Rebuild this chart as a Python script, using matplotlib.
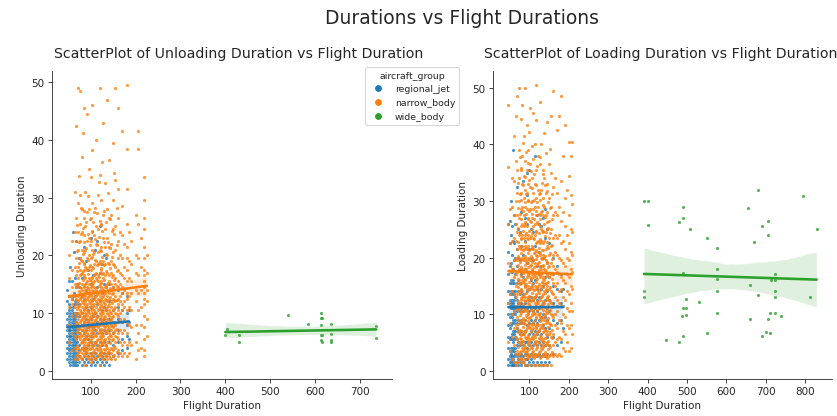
import numpy as np
import matplotlib.pyplot as plt
import seaborn as sns
from matplotlib.lines import Line2D

# aircraft groups and their colours
groups = ['regional_jet', 'narrow_body', 'wide_body']
colors = ['#1f77b4', '#ff7f0e', '#2ca02c']

# ---- Unloading duration (left panel) ----
# flight-duration columns and the unloading values read in each column
ul_regional_x = [48, 52, 55, 58, 60, 62, 65, 68, 70, 75, 80, 85, 90, 95, 100, 105,
                 110, 115, 120, 125, 130, 135, 140, 150, 160, 170, 180, 185]
ul_regional_y = [
    [2, 3, 4, 5, 6, 7, 8, 9, 10, 12, 14],
    [1.5, 2.5, 3.5, 4.5, 5.5, 6.5, 7, 7.5, 8.5, 9.5, 10.5, 11.5, 13, 15.5],
    [1, 2, 3, 4, 5, 6, 6, 7, 8, 9, 10, 11, 13, 18],
    [1.5, 2.5, 3.5, 4.5, 5.5, 6.5, 7.5, 8.5, 9.5, 10.5, 12.5, 15.5],
    [1, 2, 3, 4, 5, 6, 7, 8, 9, 10, 11, 13, 24],
    [1.5, 2.5, 3.5, 4.5, 5.5, 6.5, 7.5, 8.5, 9.5, 11.5, 13.5, 20.5],
    [1, 2, 3, 4, 5, 6, 7, 8, 9, 10, 12, 16],
    [1.5, 2.5, 4.5, 5.5, 6.5, 7.5, 8.5, 9.5, 11.5, 14.5, 22.5],
    [1, 2, 3, 5, 6, 7, 8, 10, 12, 15],
    [1.5, 2.5, 3.5, 4.5, 6.5, 7.5, 9.5, 11.5, 14.5, 19.5],
    [1, 2, 4, 5, 7, 8, 10, 13, 16],
    [1.5, 2.5, 3.5, 5.5, 6.5, 8.5, 9.5, 12.5, 21.5],
    [1, 2, 3, 4, 6, 7, 9, 11, 14, 19],
    [1.5, 2.5, 4.5, 5.5, 7.5, 8.5, 10.5, 13.5, 17.5],
    [1, 2, 3, 5, 6, 8, 9, 11, 15, 23],
    [1.5, 2.5, 4.5, 6.5, 7.5, 9.5, 12.5, 16.5],
    [1, 2, 3, 5, 7, 8, 10, 13, 21],
    [1.5, 2.5, 4.5, 6.5, 8.5, 9.5, 11.5, 14.5, 22.5],
    [1, 2, 3, 5, 7, 9, 12, 17, 25],
    [1.5, 2.5, 4.5, 6.5, 8.5, 10.5, 13.5, 18.5],
    [1, 2, 3, 5, 7, 9, 11, 15, 20],
    [1.5, 2.5, 4.5, 6.5, 8.5, 10.5, 14.5, 19.5],
    [1, 3, 5, 7, 9, 12, 15],
    [2.5, 4.5, 6.5, 8.5, 10.5, 14.5],
    [3, 5, 7, 9, 11, 14],
    [3.5, 5.5, 8.5, 10.5, 13.5],
    [4, 6, 8, 10, 13],
    [5.5, 8.5, 10.5],
]

ul_narrow_x = [52, 58, 64, 68, 72, 76, 80, 84, 88, 92, 96, 100, 104, 108, 112, 116,
               120, 124, 128, 132, 136, 140, 145, 150, 155, 160, 165, 170, 175, 180,
               185, 190, 200, 205, 212, 218, 225]
ul_narrow_y = [
    [5, 8, 11, 13, 16, 20],
    [3.5, 6.5, 9.5, 11.5, 12.5, 14.5, 17.5, 22.5],
    [2, 4, 6, 8, 10, 11, 13, 15, 18, 24, 31],
    [2.5, 3.5, 5.5, 7.5, 8.5, 9.5, 11.5, 12.5, 14.5, 16.5, 19.5, 22.5, 26.5, 42.5],
    [2, 3, 4, 6, 7, 8, 9, 10, 11, 12, 13, 15, 16, 18, 21, 24, 29, 49],
    [2.5, 3.5, 5.5, 6.5, 7.5, 8.5, 9.5, 10.5, 11.5, 12.5, 13.5, 14.5, 16.5, 17.5,
     19.5, 22.5, 25.5, 30.5, 48.5],
    [2, 3, 4, 5, 6, 7, 8, 9, 10, 11, 12, 13, 14, 15, 17, 19, 21, 24, 28, 37],
    [2.5, 3.5, 4.5, 5.5, 6.5, 7.5, 8.5, 9.5, 10.5, 11.5, 12.5, 13.5, 14.5, 16.5,
     17.5, 18.5, 20.5, 23.5, 26.5, 45.5],
    [1, 3, 4, 5, 6, 7, 8, 9, 10, 11, 12, 13, 14, 15, 16, 18, 21, 25, 31],
    [2.5, 3.5, 4.5, 5.5, 6.5, 7.5, 8.5, 9.5, 10.5, 11.5, 12.5, 13.5, 14.5, 15.5,
     17.5, 19.5, 22.5, 27.5, 44.5],
    [2, 3, 4, 5, 6, 7, 8, 9, 10, 11, 12, 13, 14, 15, 16, 18, 20, 23, 28, 35],
    [1.5, 2.5, 4.5, 5.5, 6.5, 7.5, 8.5, 9.5, 10.5, 11.5, 12.5, 13.5, 14.5, 15.5,
     17.5, 19.5, 22.5, 26.5, 33.5],
    [2, 3, 4, 5, 6, 7, 8, 9, 10, 11, 12, 13, 14, 15, 16, 18, 21, 24, 29, 46],
    [2.5, 3.5, 4.5, 6.5, 7.5, 8.5, 9.5, 10.5, 11.5, 12.5, 13.5, 14.5, 15.5, 16.5,
     18.5, 20.5, 23.5, 27.5],
    [2, 3, 4, 5, 6, 7, 8, 9, 10, 11, 12, 13, 14, 16, 17, 19, 22, 25, 40],
    [2.5, 3.5, 4.5, 5.5, 6.5, 7.5, 8.5, 9.5, 10.5, 11.5, 12.5, 13.5, 15.5, 16.5,
     18.5, 20.5, 24.5, 30.5],
    [1, 3, 4, 5, 6, 7, 8, 9, 10, 11, 12, 13, 14, 15, 17, 19, 21, 26, 34, 49],
    [2.5, 3.5, 4.5, 5.5, 6.5, 8.5, 9.5, 10.5, 11.5, 12.5, 13.5, 14.5, 15.5, 17.5,
     18.5, 21.5, 25.5, 29.5],
    [2, 3, 5, 6, 7, 8, 9, 10, 11, 12, 13, 14, 16, 17, 19, 23, 27, 43],
    [2.5, 3.5, 4.5, 5.5, 6.5, 7.5, 8.5, 9.5, 10.5, 11.5, 12.5, 13.5, 14.5, 16.5,
     18.5, 21.5, 24.5, 32.5],
    [2, 3, 4, 5, 7, 8, 9, 10, 11, 12, 13, 14, 15, 17, 20, 23, 28, 47],
    [2.5, 3.5, 5.5, 6.5, 7.5, 8.5, 9.5, 10.5, 11.5, 12.5, 13.5, 15.5, 16.5, 18.5,
     21.5, 26.5, 36.5],
    [2, 3, 4, 6, 7, 8, 9, 10, 11, 12, 14, 15, 17, 19, 22, 27],
    [2.5, 3.5, 5.5, 6.5, 7.5, 8.5, 9.5, 10.5, 12.5, 13.5, 14.5, 16.5, 18.5, 20.5,
     24.5, 29.5, 39.5],
    [2, 4, 5, 6, 7, 8, 10, 11, 12, 13, 15, 16, 18, 21, 25, 33, 49],
    [2.5, 3.5, 5.5, 6.5, 8.5, 9.5, 10.5, 11.5, 12.5, 14.5, 15.5, 17.5, 19.5, 22.5,
     26.5, 31.5, 45.5],
    [3, 5, 7, 9, 10, 12, 13, 15, 17, 20, 24],
    [2.5, 4.5, 6.5, 8.5, 10.5, 11.5, 13.5, 14.5, 16.5, 19.5, 23.5, 28.5, 41.5],
    [3, 5, 7, 9, 11, 12, 14, 16, 18, 22],
    [2.5, 4.5, 6.5, 8.5, 10.5, 12.5, 13.5, 15.5, 17.5, 19.5, 21.5, 25.5, 31.5, 38.5,
     49.5],
    [3, 5, 8, 11, 13, 16, 19, 24],
    [4.5, 7.5, 10.5, 13.5, 15.5, 18.5, 22.5],
    [2, 5, 8, 12, 14, 17, 20, 27],
    [3.5, 6.5, 10.5, 13.5, 16.5, 19.5, 25.5, 38.5, 41.5],
    [4, 8, 11, 14, 18, 23],
    [2.5, 3.5, 5.5, 7.5, 9.5, 11.5, 12.5, 13.5, 14.5, 15.5, 16.5, 17.5, 19.5, 21.5,
     24.5, 26.5, 29.5, 33.5],
    [6, 9, 12, 14, 17, 20],
]
# in-between columns of the dense narrow-body core
ul_narrow_x2 = [70, 74, 78, 82, 86, 90, 94, 98, 102, 106, 110, 114, 118, 122, 126,
                130, 134, 138, 142, 148, 153, 158]
ul_narrow_y2 = [
    [2.75, 4.25, 6.75, 8.25, 10.75, 12.25, 14.75, 17.25, 20.75, 25.25],
    [3.25, 5.75, 7.25, 9.75, 11.25, 13.75, 15.25, 18.75, 22.25, 33.75],
    [2.25, 4.75, 6.25, 8.75, 10.25, 12.75, 14.25, 16.75, 19.25, 23.75, 28.25],
    [3.75, 5.25, 7.75, 9.25, 11.75, 13.25, 15.75, 17.25, 20.25, 24.75, 41.25],
    [2.75, 4.25, 6.75, 8.25, 10.75, 12.25, 14.75, 16.25, 18.75, 22.25, 27.75],
    [3.25, 5.75, 7.25, 9.75, 11.25, 13.75, 15.25, 17.75, 21.25, 25.75],
    [2.25, 4.75, 6.25, 8.75, 10.25, 12.75, 14.25, 16.75, 19.25, 23.75, 30.25],
    [3.75, 5.25, 7.75, 9.25, 11.75, 13.25, 15.75, 18.25, 21.75, 26.25],
    [2.75, 4.25, 6.75, 8.25, 10.75, 12.25, 14.75, 16.25, 19.75, 24.25, 38.25],
    [3.25, 5.75, 7.25, 9.75, 11.25, 13.75, 15.25, 17.75, 20.25, 25.75],
    [2.25, 4.75, 6.25, 8.75, 10.25, 12.75, 14.25, 16.75, 19.25, 22.75, 28.25],
    [3.75, 5.25, 7.75, 9.25, 11.75, 13.25, 15.75, 18.25, 21.75, 27.25],
    [2.75, 4.25, 6.75, 8.25, 10.75, 12.25, 14.75, 16.25, 18.75, 23.25, 32.75],
    [3.25, 5.75, 7.25, 9.75, 11.25, 13.75, 15.25, 17.75, 20.75, 25.25],
    [2.25, 4.75, 6.25, 8.75, 10.25, 12.75, 14.25, 16.75, 19.75, 24.25, 36.25],
    [3.75, 5.25, 7.75, 9.25, 11.75, 13.25, 15.75, 18.25, 22.25, 27.75],
    [2.75, 4.25, 6.75, 8.25, 10.75, 12.25, 14.75, 17.25, 20.25, 25.75],
    [3.25, 5.75, 7.25, 9.75, 11.25, 13.75, 15.25, 18.75, 22.25, 30.75],
    [2.25, 4.75, 6.25, 8.75, 10.25, 12.75, 14.25, 17.75, 21.25, 26.25],
    [3.75, 5.25, 7.75, 9.25, 11.75, 13.25, 16.25, 19.75, 24.25],
    [2.75, 4.25, 6.75, 8.25, 10.75, 12.25, 15.75, 18.25, 23.75, 34.25],
    [3.25, 5.75, 7.25, 9.75, 12.25, 14.75, 17.25, 21.75, 28.25],
]

ul_wide_x = [404, 400, 430, 430, 539, 585, 613, 612, 615, 612, 612, 615, 612, 615,
             636, 636, 636, 636, 736, 736]
ul_wide_y = [7.3, 6.1, 6.1, 5.0, 9.7, 8.1, 10.0, 9.1, 9.1, 8.0, 6.1, 6.1, 5.4, 4.9,
             8.1, 6.3, 5.3, 4.9, 7.8, 5.6]

# ---- Loading duration (right panel) ----
ld_regional_x = [47, 50, 53, 56, 59, 62, 65, 68, 72, 76, 80, 85, 90, 95, 100, 105,
                 110, 115, 120, 125, 130, 135, 140, 145, 150, 160, 170, 180, 185]
ld_regional_y = [
    [1, 2, 4, 6, 8, 10, 12, 14, 17, 21, 26],
    [1.5, 2.5, 3.5, 5.5, 7.5, 9.5, 11.5, 12.5, 13.5, 15.5, 18.5, 22.5, 26.5],
    [1, 2, 3, 4, 6, 8, 10, 11, 12, 14, 16, 19, 24, 30],
    [1.5, 2.5, 3.5, 5.5, 6.5, 8.5, 9.5, 11.5, 12.5, 13.5, 15.5, 17.5, 20.5, 25.5],
    [1, 1, 2, 4, 5, 7, 9, 10, 11, 12, 14, 16, 18, 23, 39],
    [1.5, 2.5, 3.5, 5.5, 6.5, 8.5, 10.5, 11.5, 12.5, 13.5, 15.5, 19.5, 22.5, 27.5],
    [1, 3, 4, 6, 7, 9, 10, 11, 13, 14, 17, 20, 26],
    [1.5, 2.5, 4.5, 5.5, 7.5, 8.5, 10.5, 11.5, 12.5, 15.5, 18.5, 21.5, 32.5],
    [1, 2, 3, 5, 7, 9, 11, 12, 14, 16, 20, 25],
    [1.5, 2.5, 4.5, 6.5, 8.5, 10.5, 11.5, 13.5, 15.5, 19.5, 24.5],
    [1, 2, 3, 5, 7, 9, 11, 12, 14, 17, 22, 28],
    [1.5, 2.5, 4.5, 6.5, 8.5, 10.5, 11.5, 13.5, 16.5, 20.5, 33.5],
    [1, 2, 3, 5, 7, 9, 11, 12, 15, 18, 23, 27],
    [1, 1, 2, 2, 3, 3, 4, 5, 8, 11, 14, 19, 26, 31, 35],
    [1.5, 2.5, 4.5, 6.5, 8.5, 10.5, 12.5, 14.5, 17.5, 21.5, 35.5],
    [1, 2, 3, 5, 7, 9, 11, 13, 16, 20, 25],
    [1.5, 2.5, 4.5, 6.5, 8.5, 10.5, 12.5, 15.5, 19.5, 24.5],
    [1, 3, 5, 7, 9, 11, 13, 16, 22, 38],
    [1.5, 2.5, 4.5, 6.5, 8.5, 10.5, 12.5, 14.5, 18.5, 27.5],
    [1, 3, 5, 7, 9, 11, 13, 17, 21, 26],
    [1.5, 2.5, 4.5, 6.5, 9.5, 11.5, 14.5, 18.5, 25.5],
    [1, 3, 5, 8, 10, 12, 15, 20, 27],
    [1.5, 2.5, 4.5, 7.5, 9.5, 12.5, 16.5, 23.5, 28.5],
    [1, 3, 6, 9, 11, 14, 19, 25],
    [1.5, 4.5, 7.5, 10.5, 12.5, 16.5, 22.5],
    [3, 6, 9, 12, 15, 17, 20],
    [4.5, 8.5, 11.5, 14.5, 18.5],
    [5, 9, 12, 14, 17],
    [7.5, 11.5, 14.5],
]

ld_narrow_x = [47, 52, 57, 62, 66, 70, 74, 78, 82, 86, 90, 94, 98, 102, 106, 110,
               114, 118, 122, 126, 130, 134, 138, 142, 146, 150, 155, 160, 165, 170,
               175, 180, 185, 190, 195, 200, 205, 209]
ld_narrow_y = [
    [5, 12, 19, 26, 36, 47],
    [3.5, 8.5, 13.5, 17.5, 22.5, 28.5],
    [2, 6, 10, 14, 18, 23, 29, 34],
    [1.5, 4.5, 7.5, 10.5, 13.5, 16.5, 19.5, 23.5, 27.5, 33.5, 41.5],
    [1, 3, 6, 8, 11, 13, 15, 17, 20, 23, 26, 30, 37, 45],
    [1.5, 3.5, 5.5, 7.5, 9.5, 11.5, 13.5, 15.5, 17.5, 19.5, 21.5, 24.5, 27.5, 31.5,
     35.5, 48.5],
    [2, 3, 5, 7, 9, 11, 12, 14, 16, 18, 20, 22, 24, 27, 30, 34, 39, 50],
    [1.5, 3.5, 5.5, 6.5, 8.5, 10.5, 12.5, 14.5, 15.5, 17.5, 19.5, 21.5, 23.5, 25.5,
     28.5, 31.5, 35.5, 44.5],
    [2, 4, 5, 7, 9, 11, 13, 14, 16, 18, 20, 22, 24, 26, 29, 33, 38, 47],
    [1.5, 3.5, 4.5, 6.5, 8.5, 10.5, 12.5, 13.5, 15.5, 17.5, 19.5, 21.5, 23.5, 25.5,
     27.5, 30.5, 34.5, 41.5],
    [1, 2, 4, 6, 7, 9, 11, 13, 15, 16, 18, 20, 22, 24, 26, 29, 32, 37, 50],
    [2.5, 3.5, 5.5, 7.5, 9.5, 10.5, 12.5, 14.5, 16.5, 17.5, 19.5, 21.5, 23.5, 25.5,
     28.5, 31.5, 35.5, 43.5],
    [1, 3, 5, 6, 8, 10, 12, 13, 15, 17, 19, 20, 22, 24, 27, 30, 33, 39],
    [2.5, 4.5, 5.5, 7.5, 9.5, 11.5, 12.5, 14.5, 16.5, 18.5, 19.5, 21.5, 23.5, 26.5,
     28.5, 32.5, 36.5, 46.5],
    [1, 3, 4, 6, 8, 10, 11, 13, 15, 17, 18, 20, 22, 25, 27, 30, 34],
    [2.5, 3.5, 5.5, 7.5, 8.5, 10.5, 12.5, 14.5, 16.5, 17.5, 19.5, 21.5, 23.5, 25.5,
     28.5, 31.5, 37.5, 45.5],
    [1, 3, 5, 6, 8, 10, 12, 13, 15, 17, 19, 21, 24, 26, 29, 33, 40],
    [2.5, 4.5, 6.5, 7.5, 9.5, 11.5, 13.5, 14.5, 16.5, 18.5, 20.5, 22.5, 24.5, 27.5,
     30.5, 35.5, 50.5],
    [1, 3, 5, 7, 8, 10, 12, 14, 15, 17, 19, 21, 23, 26, 29, 32, 38],
    [2.5, 3.5, 5.5, 7.5, 9.5, 11.5, 12.5, 14.5, 16.5, 18.5, 20.5, 22.5, 25.5, 27.5,
     31.5, 36.5, 47.5],
    [1, 4, 6, 8, 9, 11, 13, 15, 17, 18, 20, 23, 25, 28, 32, 40],
    [2.5, 4.5, 5.5, 7.5, 9.5, 11.5, 13.5, 15.5, 16.5, 18.5, 20.5, 22.5, 24.5, 27.5,
     30.5, 35.5],
    [1, 3, 5, 7, 9, 10, 12, 14, 16, 18, 20, 23, 26, 29, 34, 42],
    [2.5, 4.5, 6.5, 8.5, 10.5, 12.5, 14.5, 15.5, 17.5, 19.5, 21.5, 24.5, 27.5, 31.5,
     38.5],
    [1, 3, 5, 7, 9, 11, 13, 15, 17, 19, 22, 25, 28, 33, 44],
    [2.5, 4.5, 6.5, 8.5, 10.5, 12.5, 14.5, 16.5, 18.5, 20.5, 23.5, 26.5, 30.5, 36.5],
    [1, 3, 6, 8, 10, 12, 14, 17, 19, 22, 25, 29, 35, 45],
    [2.5, 4.5, 6.5, 9.5, 11.5, 13.5, 15.5, 18.5, 20.5, 23.5, 27.5, 32.5, 49.5],
    [3, 5, 8, 10, 13, 15, 18, 21, 24, 28, 34],
    [2.5, 5.5, 7.5, 10.5, 12.5, 15.5, 17.5, 20.5, 23.5, 27.5, 31.5, 42.5],
    [3, 6, 9, 12, 14, 17, 20, 24, 29, 45],
    [2.5, 5.5, 8.5, 11.5, 14.5, 16.5, 19.5, 22.5, 26.5, 33.5, 48.5],
    [4, 7, 10, 13, 16, 19, 23, 28, 38],
    [3.5, 6.5, 9.5, 12.5, 15.5, 18.5, 21.5, 25.5, 30.5, 43.5],
    [5, 8, 11, 14, 17, 20, 24, 32],
    [3.5, 7.5, 10.5, 13.5, 16.5, 19.5, 22.5, 27.5, 34.5, 40.5],
    [4, 8, 12, 15, 18, 21, 25, 31, 38],
    [6.5, 10.5, 14.5, 17.5, 20.5, 24.5, 29.5, 40.5],
]
# in-between columns of the dense narrow-body core
ld_narrow_x2 = [72, 76, 80, 84, 88, 92, 96, 100, 104, 108, 112, 116, 120, 124, 128,
                132, 136, 140, 144, 148, 152, 158]
ld_narrow_y2 = [
    [2.75, 4.25, 6.75, 8.25, 10.75, 12.25, 14.75, 16.25, 18.75, 20.25, 22.75, 25.25,
     28.75, 33.25],
    [3.25, 5.75, 7.25, 9.75, 11.25, 13.75, 15.25, 17.75, 19.25, 21.75, 24.25, 27.75,
     31.25, 37.75],
    [2.25, 4.75, 6.25, 8.75, 10.25, 12.75, 14.25, 16.75, 18.25, 20.75, 23.25, 26.75,
     30.25, 35.75],
    [3.75, 5.25, 7.75, 9.25, 11.75, 13.25, 15.75, 17.25, 19.75, 21.25, 24.75, 28.25,
     32.75, 40.25],
    [2.75, 4.25, 6.75, 8.25, 10.75, 12.25, 14.75, 16.25, 18.75, 20.25, 22.75, 26.25,
     29.75, 34.25],
    [3.25, 5.75, 7.25, 9.75, 11.25, 13.75, 15.25, 17.75, 19.25, 21.75, 24.25, 27.75,
     31.25, 38.75],
    [2.25, 4.75, 6.25, 8.75, 10.25, 12.75, 14.25, 16.75, 18.25, 20.75, 23.25, 26.75,
     30.25, 36.75],
    [3.75, 5.25, 7.75, 9.25, 11.75, 13.25, 15.75, 17.25, 19.75, 21.25, 24.75, 28.25,
     33.75, 42.25],
    [2.75, 4.25, 6.75, 8.25, 10.75, 12.25, 14.75, 16.25, 18.75, 20.25, 23.75, 26.25,
     29.75, 35.25],
    [3.25, 5.75, 7.25, 9.75, 11.25, 13.75, 15.25, 17.75, 19.25, 21.75, 24.25, 27.75,
     32.25, 39.75],
    [2.25, 4.75, 6.25, 8.75, 10.25, 12.75, 14.25, 16.75, 18.25, 20.75, 23.25, 26.75,
     30.25, 34.75],
    [3.75, 5.25, 7.75, 9.25, 11.75, 13.25, 15.75, 17.25, 19.75, 21.25, 24.75, 28.25,
     32.75, 44.25],
    [2.75, 4.25, 6.75, 8.25, 10.75, 12.25, 14.75, 16.25, 18.75, 20.25, 22.75, 26.25,
     29.75, 36.25],
    [3.25, 5.75, 7.25, 9.75, 11.25, 13.75, 15.25, 17.75, 19.25, 21.75, 24.25, 27.75,
     31.25],
    [2.25, 4.75, 6.25, 8.75, 10.25, 12.75, 14.25, 16.75, 18.25, 20.75, 23.25, 26.75,
     30.25, 37.75],
    [3.75, 5.25, 7.75, 9.25, 11.75, 13.25, 15.75, 17.25, 19.75, 21.25, 24.75, 28.25,
     33.25],
    [2.75, 4.25, 6.75, 8.25, 10.75, 12.25, 14.75, 16.25, 18.75, 21.25, 24.75, 29.25,
     34.75],
    [3.25, 5.75, 7.25, 9.75, 11.25, 13.75, 15.25, 17.75, 20.25, 23.75, 27.25, 32.75],
    [2.25, 4.75, 6.25, 8.75, 10.25, 12.75, 14.25, 16.75, 19.25, 22.75, 26.25, 31.75],
    [3.75, 5.25, 7.75, 9.25, 11.75, 13.25, 15.75, 18.25, 21.75, 25.25, 29.75],
    [2.75, 4.25, 6.75, 8.25, 10.75, 12.25, 14.75, 17.25, 20.75, 24.25, 28.75, 39.25],
    [3.25, 5.75, 7.25, 9.75, 11.25, 13.75, 16.25, 19.75, 22.25, 26.75, 31.25],
]

ld_wide_x = [391, 401, 401, 491, 491, 481, 507, 552, 576, 576, 489, 576, 391, 391,
             576, 497, 531, 491, 497, 487, 497, 576, 552, 446, 481, 491,
             680, 795, 654, 706, 690, 706, 829, 669, 724, 714, 724, 661, 680, 724,
             724, 813, 710, 724, 739, 661, 706, 700, 710, 690]
ld_wide_y = [30.0, 30.0, 25.7, 29.0, 27.0, 26.3, 25.1, 23.4, 21.7, 18.0, 17.2, 16.2,
             14.0, 13.1, 14.0, 12.6, 12.1, 11.0, 11.0, 9.7, 9.9, 10.1, 6.6, 5.4, 5.1,
             6.1, 32.0, 30.9, 28.7, 26.4, 25.5, 24.0, 25.1, 22.7, 17.1, 16.0, 16.0,
             15.1, 13.3, 14.0, 13.1, 13.0, 10.1, 10.1, 9.7, 9.1, 9.1, 6.8, 6.6, 6.1]


def expand(cols, vals):
    x = np.repeat(np.array(cols, dtype=float), [len(v) for v in vals])
    y = np.concatenate([np.array(v, dtype=float) for v in vals])
    return x, y


ul_nx, ul_ny = expand(ul_narrow_x + ul_narrow_x2, ul_narrow_y + ul_narrow_y2)
ld_nx, ld_ny = expand(ld_narrow_x + ld_narrow_x2, ld_narrow_y + ld_narrow_y2)

unloading = [expand(ul_regional_x, ul_regional_y),
             (ul_nx, ul_ny),
             (np.array(ul_wide_x, float), np.array(ul_wide_y, float))]
loading = [expand(ld_regional_x, ld_regional_y),
           (ld_nx, ld_ny),
           (np.array(ld_wide_x, float), np.array(ld_wide_y, float))]

sns.set_style("ticks")
plt.rcParams['font.family'] = ['DejaVu Sans']

fig = plt.figure(figsize=(837 / 75, 417 / 75), dpi=75)
ax1 = fig.add_axes([0.062, 0.089, 0.406, 0.738])
ax2 = fig.add_axes([0.589, 0.089, 0.405, 0.738])

for ax, data in [(ax1, unloading), (ax2, loading)]:
    for (x, y), c in zip(data, colors):
        sns.regplot(x=x, y=y, ax=ax, color=c, seed=0,
                    scatter_kws={'s': 9, 'linewidths': 0},
                    line_kws={'lw': 2.5})
    ax.tick_params(labelsize=10)

ax1.set_title("ScatterPlot of Unloading Duration vs Flight Duration",
              fontsize=13.5, pad=14, x=0.549)
ax2.set_title("ScatterPlot of Loading Duration vs Flight Duration",
              fontsize=13.5, pad=14, x=0.494)
ax1.set_xlabel("Flight Duration", fontsize=10)
ax1.set_ylabel("Unloading Duration", fontsize=10)
ax2.set_xlabel("Flight Duration", fontsize=10)
ax2.set_ylabel("Loading Duration", fontsize=10)
sns.despine(fig=fig)

handles = [Line2D([], [], marker='o', linestyle='', color=c, markersize=5.5)
           for c in colors]
fig.legend(handles, groups, title='aircraft_group', loc='upper left',
           bbox_to_anchor=(0.436, 0.837), borderaxespad=0,
           fontsize=9, title_fontsize=9)

fig.suptitle("Durations vs Flight Durations", fontsize=18, x=0.552, y=0.955,
             va='center')

fig.savefig("out.png", dpi=75)
